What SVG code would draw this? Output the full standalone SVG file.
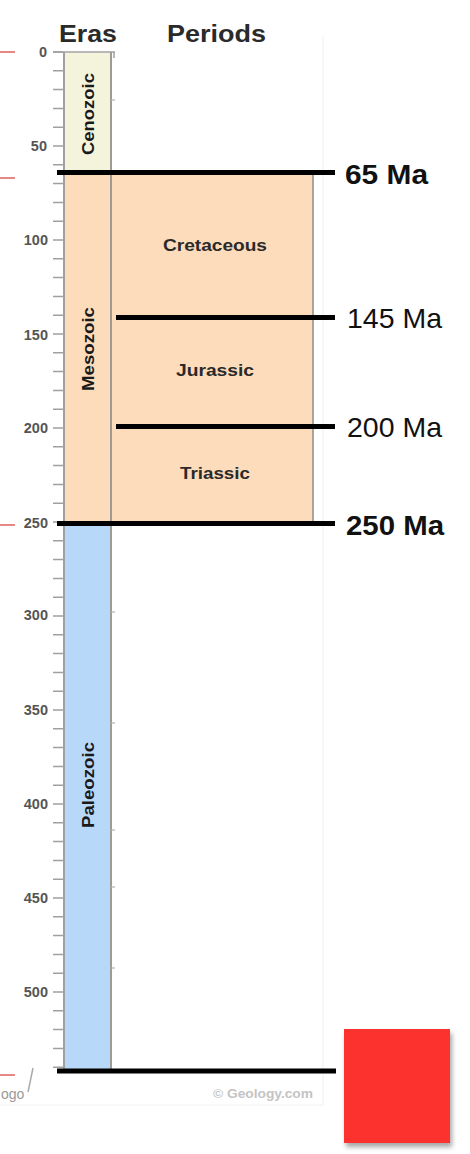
<svg xmlns="http://www.w3.org/2000/svg" width="470" height="1154" viewBox="0 0 470 1154">
<style>
.hdr{font-family:"Liberation Sans",Arial,sans-serif;font-weight:bold;font-size:24px;fill:#2a2a2a}
.era{font-family:"Liberation Sans",Arial,sans-serif;font-weight:bold;font-size:17px;fill:#1a1a1a}
.per{font-family:"Liberation Sans",Arial,sans-serif;font-weight:bold;font-size:16px;fill:#2a2a2a;text-anchor:middle}
.num{font-family:"Liberation Sans",Arial,sans-serif;font-weight:bold;font-size:14.5px;fill:#555;text-anchor:end}
.ma{font-family:"Liberation Sans",Arial,sans-serif;font-size:28.5px;fill:#111}
.mab{font-family:"Liberation Sans",Arial,sans-serif;font-weight:bold;font-size:28.5px;fill:#111}
.tick{stroke:#a0a0a0;stroke-width:1.5}
.red{stroke:#e0605c;stroke-width:1.5}
.bnd{stroke:#000;stroke-width:5}
</style>
<defs>
<filter id="sh" x="-20%" y="-20%" width="150%" height="150%">
<feDropShadow dx="2" dy="4" stdDeviation="2.5" flood-color="#000" flood-opacity="0.35"/>
</filter>
</defs>
<rect width="470" height="1154" fill="#fff"/>
<line x1="323" y1="37" x2="323" y2="1105" stroke="#eeeeee" stroke-width="1"/>
<line x1="0" y1="1105" x2="323" y2="1105" stroke="#f2f2f2" stroke-width="1"/>
<g id="redmarks">
<line class="red" x1="0" y1="52" x2="15" y2="52"/>
<line class="red" x1="0" y1="178" x2="15" y2="178"/>
<line class="red" x1="0" y1="525" x2="15" y2="525"/>
<line class="red" x1="0" y1="1075" x2="15" y2="1075"/>
</g>
<text class="hdr" x="59" y="42" textLength="58" lengthAdjust="spacingAndGlyphs">Eras</text>
<text class="hdr" x="167" y="42" textLength="99" lengthAdjust="spacingAndGlyphs">Periods</text>
<g id="cenozoic">
<rect x="64" y="53" width="47" height="120" fill="#f4f4dc"/>
<text class="era" transform="translate(94,114) rotate(-90)" text-anchor="middle" textLength="82" lengthAdjust="spacingAndGlyphs">Cenozoic</text>
</g>
<g id="mesozoic">
<rect x="64" y="172" width="47" height="352" fill="#fddcbc"/>
<text class="era" transform="translate(94,349) rotate(-90)" text-anchor="middle" textLength="84" lengthAdjust="spacingAndGlyphs">Mesozoic</text>
</g>
<g id="paleozoic">
<rect x="64" y="523" width="47" height="546" fill="#b8d8fa"/>
<text class="era" transform="translate(94,785) rotate(-90)" text-anchor="middle" textLength="86" lengthAdjust="spacingAndGlyphs">Paleozoic</text>
</g>
<g id="cretaceous">
<rect x="111" y="172" width="202" height="146" fill="#fddcbc"/>
<text class="per" x="215" y="251" textLength="104" lengthAdjust="spacingAndGlyphs">Cretaceous</text>
</g>
<g id="jurassic">
<rect x="111" y="317" width="202" height="110" fill="#fddcbc"/>
<text class="per" x="215" y="376" textLength="78" lengthAdjust="spacingAndGlyphs">Jurassic</text>
</g>
<g id="triassic">
<rect x="111" y="426" width="202" height="98" fill="#fddcbc"/>
<text class="per" x="215" y="479" textLength="70" lengthAdjust="spacingAndGlyphs">Triassic</text>
</g>
<line x1="64" y1="52" x2="64" y2="1069" stroke="#a0a0a0" stroke-width="2"/>
<line x1="111" y1="52" x2="111" y2="1069" stroke="#a09a94" stroke-width="2"/>
<line x1="313" y1="172" x2="313" y2="524" stroke="#a9a39c" stroke-width="2"/>
<line x1="53" y1="52" x2="115" y2="52" stroke="#a0a0a0" stroke-width="1.5"/>
<line x1="114" y1="52" x2="114" y2="58" stroke="#a0a0a0" stroke-width="1.5"/>
<g id="minorticks" stroke="#b0b0b0" stroke-width="1.2">
<line x1="111" y1="100" x2="115" y2="100"/>
<line x1="111" y1="612" x2="115" y2="612"/>
<line x1="111" y1="723" x2="115" y2="723"/>
<line x1="111" y1="830" x2="115" y2="830"/>
<line x1="111" y1="887" x2="115" y2="887"/>
<line x1="111" y1="968" x2="115" y2="968"/>
</g>
<g id="axis">
<path class="tick" d="M53 52H63M53 70.8H63M53 89.6H63M53 108.4H63M53 127.2H63M53 146H63M53 164.8H63M53 183.6H63M53 202.4H63M53 221.2H63M53 240H63M53 258.8H63M53 277.6H63M53 296.4H63M53 315.2H63M53 334H63M53 352.8H63M53 371.6H63M53 390.4H63M53 409.2H63M53 428H63M53 446.8H63M53 465.6H63M53 484.4H63M53 503.2H63M53 522H63M53 540.8H63M53 559.6H63M53 578.4H63M53 597.2H63M53 616H63M53 634.8H63M53 653.6H63M53 672.4H63M53 691.2H63M53 710H63M53 728.8H63M53 747.6H63M53 766.4H63M53 785.2H63M53 804H63M53 822.8H63M53 841.6H63M53 860.4H63M53 879.2H63M53 898H63M53 916.8H63M53 935.6H63M53 954.4H63M53 973.2H63M53 992H63M53 1010.8H63M53 1029.6H63M53 1048.4H63M53 1067.2H63"/>
<text class="num" x="47" y="57">0</text>
<text class="num" x="47" y="151">50</text>
<text class="num" x="48" y="245">100</text>
<text class="num" x="48" y="340">150</text>
<text class="num" x="48" y="433">200</text>
<text class="num" x="48" y="528">250</text>
<text class="num" x="48" y="620">300</text>
<text class="num" x="48" y="715">350</text>
<text class="num" x="48" y="809">400</text>
<text class="num" x="48" y="903">450</text>
<text class="num" x="48" y="997">500</text>
</g>
<g id="connectors">
<line class="bnd" x1="57" y1="172.5" x2="335" y2="172.5"/>
<line class="bnd" x1="116" y1="317.5" x2="335" y2="317.5"/>
<line class="bnd" x1="116" y1="426.5" x2="335" y2="426.5"/>
<line class="bnd" x1="57" y1="523.5" x2="335" y2="523.5"/>
<line class="bnd" x1="57" y1="1071" x2="336" y2="1071"/>
</g>
<g id="labels">
<text class="mab" x="345" y="184" textLength="83" lengthAdjust="spacingAndGlyphs">65 Ma</text>
<text class="ma" x="347" y="328" textLength="95" lengthAdjust="spacingAndGlyphs">145 Ma</text>
<text class="ma" x="347" y="437" textLength="95" lengthAdjust="spacingAndGlyphs">200 Ma</text>
<text class="mab" x="346" y="535" textLength="98" lengthAdjust="spacingAndGlyphs">250 Ma</text>
</g>
<text x="1" y="1099" font-family="'Liberation Sans',Arial,sans-serif" font-size="14" fill="#999">ogo</text>
<line x1="33" y1="1068" x2="28" y2="1092" stroke="#aaa" stroke-width="1.5"/>
<text x="263" y="1098" font-family="'Liberation Sans',Arial,sans-serif" font-weight="bold" font-size="12" fill="#c4c4c4" text-anchor="middle" textLength="100" lengthAdjust="spacingAndGlyphs">© Geology.com</text>
<g id="redsquare">
<rect x="344" y="1029" width="106" height="114" fill="#fc302e" filter="url(#sh)"/>
</g>
</svg>
